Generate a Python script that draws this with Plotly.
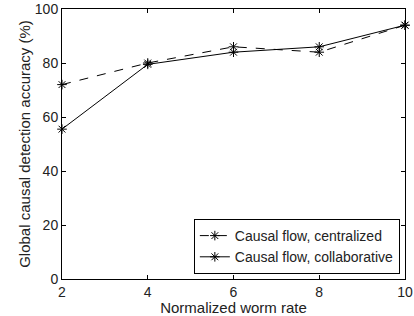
import plotly.graph_objects as go

worm_rate = [2, 4, 6, 8, 10]
centralized = [72, 80, 86, 84, 94]
collaborative = [55.5, 79.5, 84, 86, 94]
x_ticks = [2, 4, 6, 8, 10]
y_ticks = [0, 20, 40, 60, 80, 100]

FONT = "Liberation Sans, Arial, sans-serif"

fig = go.Figure()
fig.add_trace(go.Scatter(
    x=worm_rate, y=centralized, mode="lines+markers",
    name="Causal flow, centralized",
    line=dict(color="black", width=1, dash="dash"),
    marker=dict(symbol="asterisk-open", size=8, color="black", line=dict(width=1, color="black")),
    cliponaxis=False,
))
fig.add_trace(go.Scatter(
    x=worm_rate, y=collaborative, mode="lines+markers",
    name="Causal flow, collaborative",
    line=dict(color="black", width=1),
    marker=dict(symbol="asterisk-open", size=8, color="black", line=dict(width=1, color="black")),
    cliponaxis=False,
))

axis_common = dict(
    showline=True, linecolor="black", linewidth=1, mirror="ticks",
    ticks="inside", ticklen=4, tickcolor="black",
    showgrid=False, zeroline=False, automargin=False,
    tickfont=dict(family=FONT, size=14, color="#222"),
)
fig.update_xaxes(range=[2, 10], tickvals=x_ticks, **axis_common,
                 title=dict(text="Normalized worm rate", standoff=0,
                            font=dict(family=FONT, size=15, color="#222")))
fig.update_yaxes(range=[0, 100], tickvals=y_ticks, **axis_common,
                 title=dict(text="Global causal detection accuracy (%)", standoff=0,
                            font=dict(family=FONT, size=15, color="#222")))

fig.update_layout(
    width=414, height=316,
    margin=dict(l=62, r=9, t=9, b=37, autoexpand=False),
    plot_bgcolor="white", paper_bgcolor="white",
    showlegend=True,
    legend=dict(x=0.985, y=0.0185, xanchor="right", yanchor="bottom",
                bordercolor="black", borderwidth=1, bgcolor="white",
                font=dict(family=FONT, size=14, color="#222"),
                tracegroupgap=0, itemwidth=30),
)
fig.write_html("out.html", config={"displayModeBar": False},
               post_script="document.body.style.margin='0';")
